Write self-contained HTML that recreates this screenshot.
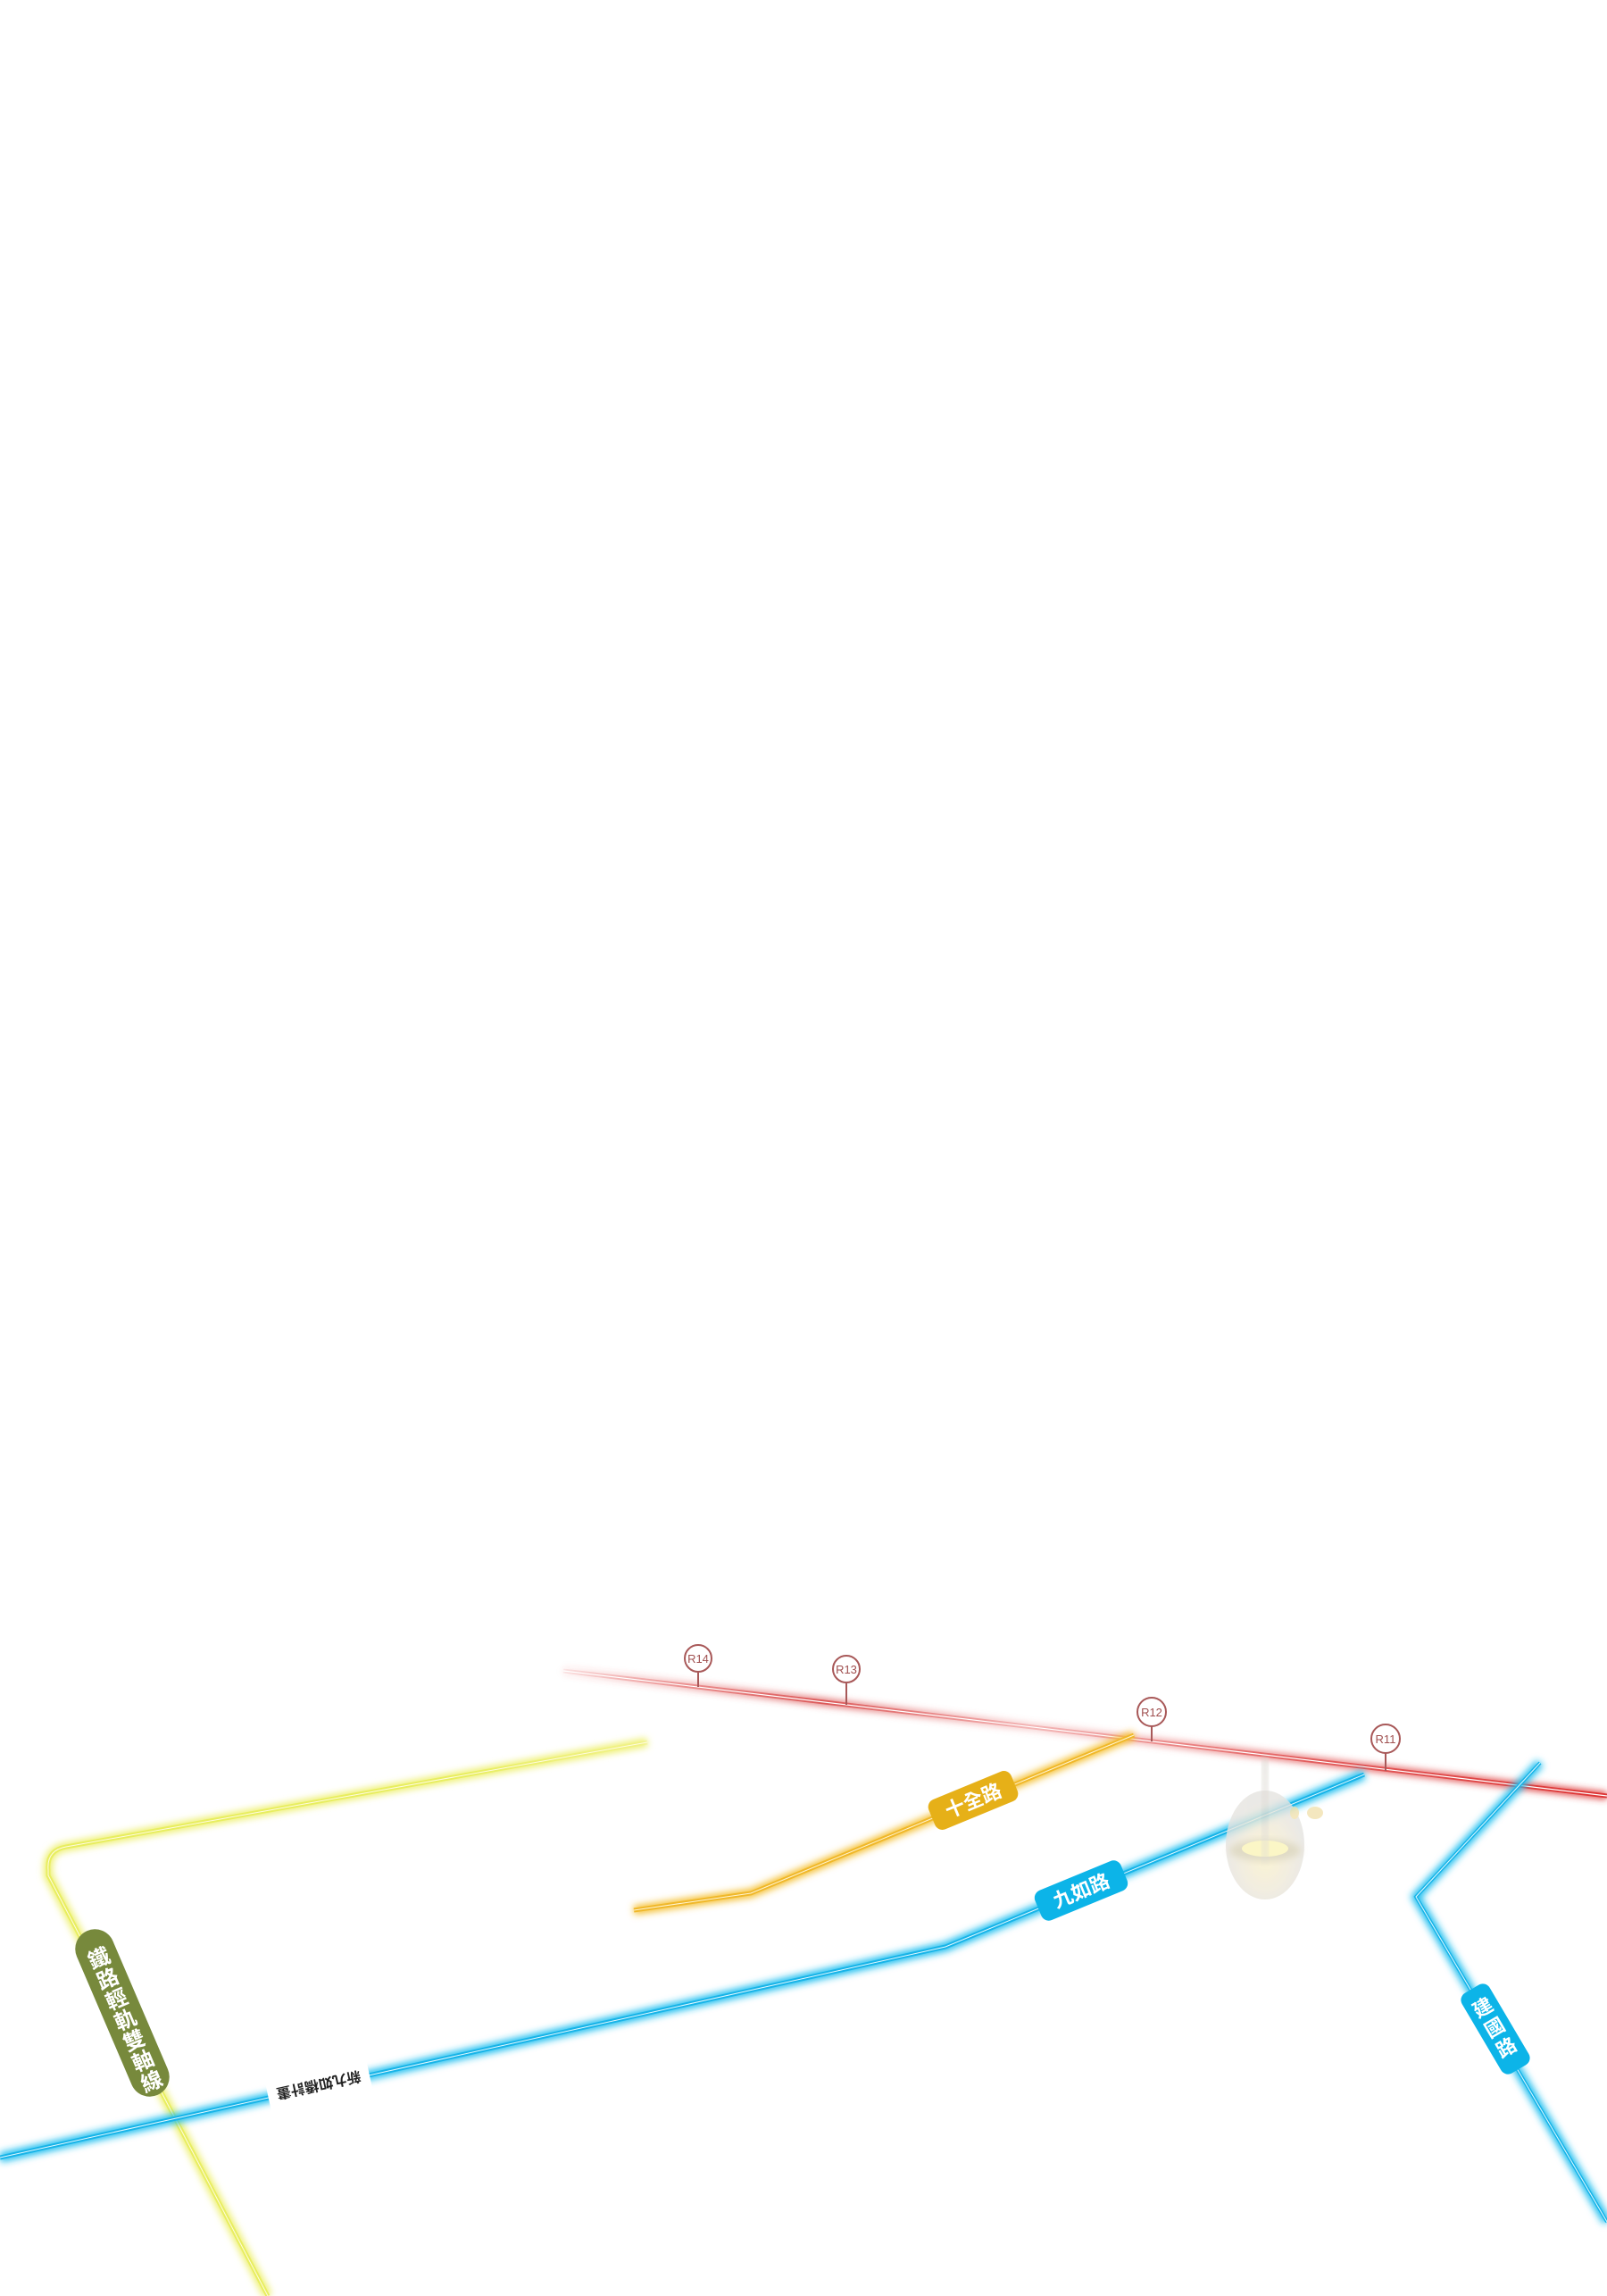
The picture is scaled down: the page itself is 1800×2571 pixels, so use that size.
<!DOCTYPE html>
<html><head><meta charset="utf-8"><style>
html,body{margin:0;padding:0;background:#fff;}
svg{display:block;}
text{font-family:"Liberation Sans","Noto Sans CJK TC",sans-serif;}
</style></head><body>
<svg width="1800" height="2571" viewBox="0 0 1800 2571" xmlns="http://www.w3.org/2000/svg">
<defs>
<filter id="g" x="-20%" y="-20%" width="140%" height="140%"><feGaussianBlur stdDeviation="4"/></filter>
<linearGradient id="rg" x1="631" y1="0" x2="1800" y2="0" gradientUnits="userSpaceOnUse">
<stop offset="0" stop-color="#e04040" stop-opacity="0.1"/><stop offset="0.25" stop-color="#d84848" stop-opacity="0.8"/><stop offset="0.45" stop-color="#e87070" stop-opacity="0.35"/><stop offset="0.7" stop-color="#e05050" stop-opacity="0.8"/><stop offset="1" stop-color="#dd3333"/></linearGradient>
<linearGradient id="yg" x1="725" y1="0" x2="54" y2="0" gradientUnits="userSpaceOnUse">
<stop offset="0" stop-color="#eef07a" stop-opacity="0.4"/><stop offset="0.3" stop-color="#e8ee60"/><stop offset="1" stop-color="#e8ee60"/></linearGradient>
<radialGradient id="lamp" cx="0.5" cy="0.6" r="0.5"><stop offset="0" stop-color="#fbf2c8"/><stop offset="0.6" stop-color="#f0ead8"/><stop offset="1" stop-color="#e6e4e0"/></radialGradient>
</defs>

<line x1="631" y1="1871" x2="1800" y2="2011" stroke="url(#rg)" stroke-width="8" filter="url(#g)"/>
<line x1="631" y1="1871" x2="1800" y2="2011" stroke="url(#rg)" stroke-width="5"/>
<line x1="631" y1="1871" x2="1800" y2="2011" stroke="#fff" stroke-width="1.2"/>

<path d="M725,1951 L74,2068 Q52,2072 54,2094 L54,2100 L300,2571" fill="none" stroke="#eef070" stroke-width="10" filter="url(#g)"/>
<path d="M725,1951 L74,2068 Q52,2072 54,2094 L54,2100 L300,2571" fill="none" stroke="url(#yg)" stroke-width="5"/>
<path d="M725,1951 L74,2068 Q52,2072 54,2094 L54,2100 L300,2571" fill="none" stroke="#fffbe0" stroke-width="1"/>

<path d="M710,2139 L841,2120 L1270,1943" fill="none" stroke="#f5c030" stroke-width="10" filter="url(#g)"/>
<path d="M710,2139 L841,2120 L1270,1943" fill="none" stroke="#f0b82a" stroke-width="5"/>
<path d="M710,2139 L841,2120 L1270,1943" fill="none" stroke="#fff4d0" stroke-width="1"/>

<path d="M0,2416 L1059,2180 L1528,1987" fill="none" stroke="#20c0f0" stroke-width="11" filter="url(#g)"/>
<path d="M0,2416 L1059,2180 L1528,1987" fill="none" stroke="#18b4e8" stroke-width="5"/>
<path d="M0,2416 L1059,2180 L1528,1987" fill="none" stroke="#e0f8ff" stroke-width="1"/>

<path d="M1725,1974 L1586,2124 L1800,2488" fill="none" stroke="#20c0f0" stroke-width="10" filter="url(#g)"/>
<path d="M1725,1974 L1586,2124 L1800,2488" fill="none" stroke="#18b4e8" stroke-width="4"/>
<path d="M1725,1974 L1586,2124 L1800,2488" fill="none" stroke="#e0f8ff" stroke-width="1"/>

<g opacity="0.8">
<ellipse cx="1417" cy="2066" rx="44" ry="61" fill="url(#lamp)"/>
<ellipse cx="1417" cy="2072" rx="40" ry="12" fill="#d8d2b8" filter="url(#g)"/>
<ellipse cx="1417" cy="2070" rx="26" ry="9" fill="#fbf4b8"/>
<path d="M1414,1968 L1420,1968 L1419,2085 L1415,2085 Z" fill="#d8d4cc" filter="url(#g)"/>
<ellipse cx="1450" cy="2030" rx="5" ry="7" fill="#f2e2b0"/>
<ellipse cx="1473" cy="2030" rx="9" ry="7" fill="#f2e2b0"/>
</g>

<g stroke="#a85858" stroke-width="2" fill="#fff">
<line x1="782" y1="1873" x2="782" y2="1889"/>
<circle cx="782" cy="1857" r="15"/>
<line x1="948" y1="1885" x2="948" y2="1909"/>
<circle cx="948" cy="1869" r="15"/>
<line x1="1290" y1="1933" x2="1290" y2="1950"/>
<circle cx="1290" cy="1917" r="16"/>
<line x1="1552" y1="1963" x2="1552" y2="1983"/>
<circle cx="1552" cy="1947" r="16"/>
</g>
<g fill="#a05050" font-size="13" text-anchor="middle">
<text x="782" y="1862">R14</text>
<text x="948" y="1874">R13</text>
<text x="1290" y="1922">R12</text>
<text x="1552" y="1952">R11</text>
</g>

<g transform="translate(1090,2016) rotate(-22.4)">
<rect x="-50" y="-18" width="100" height="36" rx="9" fill="#e6b018"/>
<text x="0" y="8" font-size="22" fill="#fff" text-anchor="middle" font-weight="bold">十全路</text>
</g>
<g transform="translate(1211,2117) rotate(-22.4)">
<rect x="-52" y="-18" width="104" height="36" rx="9" fill="#0cb4e8"/>
<text x="0" y="8" font-size="22" fill="#fff" text-anchor="middle" font-weight="bold">九如路</text>
</g>
<g transform="translate(1675,2272) rotate(-30.5)">
<rect x="-18" y="-52" width="36" height="104" rx="9" fill="#0cb4e8"/>
<text x="0" y="-20" font-size="22" fill="#fff" text-anchor="middle" font-weight="bold">建</text>
<text x="0" y="6" font-size="22" fill="#fff" text-anchor="middle" font-weight="bold">國</text>
<text x="0" y="32" font-size="22" fill="#fff" text-anchor="middle" font-weight="bold">路</text>
</g>
<g transform="translate(137,2254) rotate(-23.2)">
<rect x="-22" y="-100" width="44" height="200" rx="22" fill="#77893c"/>
<g fill="#fff" font-size="24" text-anchor="middle" font-weight="bold">
<text x="0" y="-58">鐵</text><text x="0" y="-33">路</text><text x="0" y="-8">輕</text>
<text x="0" y="17">軌</text><text x="0" y="42">雙</text><text x="0" y="67">軸</text><text x="0" y="92">線</text>
</g>
</g>
<g transform="translate(357,2335) rotate(-12.3)">
<rect x="-58" y="-17" width="116" height="34" fill="#fff"/>
<text x="0" y="6" font-size="16" fill="#222" text-anchor="middle" font-weight="bold" transform="rotate(180)">新九如橋計畫</text>
</g>
</svg>
</body></html>
